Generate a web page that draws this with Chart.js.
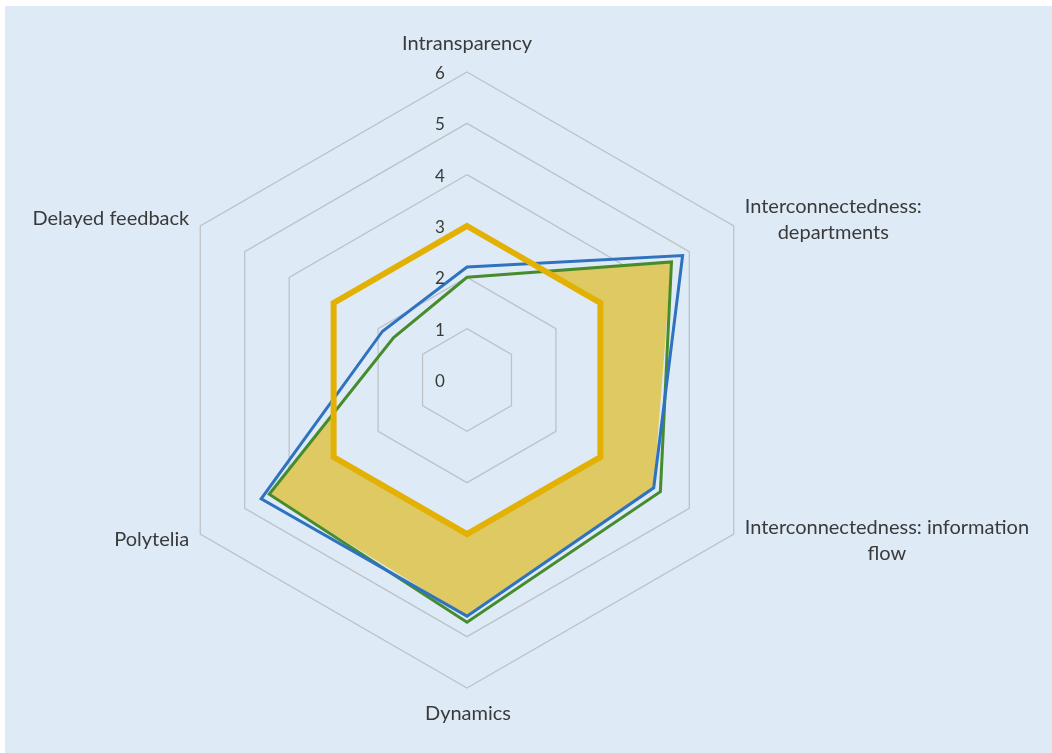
<!DOCTYPE html>
<html>
<head>
<meta charset="utf-8">
<script src="https://cdn.jsdelivr.net/npm/chart.js@4"></script>
<style>
  body { margin: 0; background: #fff; }
  #wrap { position: absolute; left: 5px; top: 6px; width: 1047px; height: 747px; background: #deebf7; }
</style>
</head>
<body>
<div id="wrap"><canvas id="radar"></canvas></div>
<script>
const categories = [
  "Intransparency",
  ["Interconnectedness:", "departments"],
  ["Interconnectedness: information", "flow"],
  "Dynamics",
  "Polytelia",
  "Delayed feedback"
];
const tickValues = [0, 1, 2, 3, 4, 5, 6];
const blueValues = [2.2, 4.85, 4.2, 4.6, 4.63, 1.9];
const greenValues = [2.0, 4.6, 4.35, 4.72, 4.45, 1.65];
const goldValues = [3, 3, 3, 3, 3, 3];
const shadedValues = [2.0, 4.6, 4.2, 4.6, 4.45, 1.65];

// where each axis label sits relative to the outer grid corner
const labelPlacement = [
  { align: "center", dx: 0, dy: -22 },
  { align: "block", dx: 11, dy: -13 },
  { align: "block", dx: 11, dy: 0 },
  { align: "center", dx: 1, dy: 32 },
  { align: "right", dx: -11, dy: 12 },
  { align: "right", dx: -11, dy: -1 }
];
const labelFont = "20px Lato";
const tickFont = "17px Lato";
const textColor = "#3a3a3a";
const SHADED = 3;

// keep the shaded band out of the gold hexagon
const cutOutGold = {
  id: "cutOutGold",
  beforeDatasetsDraw(chart) {
    const r = chart.scales.r;
    const ctx = chart.ctx;
    ctx.save();
    ctx.beginPath();
    ctx.rect(0, 0, chart.width, chart.height);
    goldValues.forEach((v, i) => {
      const p = r.getPointPositionForValue(i, v);
      if (i === 0) ctx.moveTo(p.x, p.y);
      else ctx.lineTo(p.x, p.y);
    });
    ctx.closePath();
    ctx.clip("evenodd");
  },
  afterDatasetDraw(chart, args) {
    if (args.index === SHADED) chart.ctx.restore();
  }
};

const axisText = {
  id: "axisText",
  afterDatasetsDraw(chart) {
    const r = chart.scales.r;
    const ctx = chart.ctx;
    const top = tickValues[tickValues.length - 1];
    ctx.save();
    ctx.fillStyle = textColor;
    ctx.textBaseline = "middle";
    ctx.textAlign = "center";
    ctx.font = tickFont;
    r.ticks.forEach(t => {
      const p = r.getPointPositionForValue(0, t.value);
      ctx.fillText(String(t.value), r.xCenter - 27, p.y + 1.5);
    });

    ctx.font = labelFont;
    ctx.textBaseline = "alphabetic";
    categories.forEach((lab, i) => {
      const lines = Array.isArray(lab) ? lab : [lab];
      const pl = labelPlacement[i];
      const p = r.getPointPositionForValue(i, top);
      const w = Math.max(...lines.map(s => ctx.measureText(s).width));
      lines.forEach((s, k) => {
        const y = p.y + pl.dy + k * 26;
        if (pl.align === "center") {
          ctx.textAlign = "center";
          ctx.fillText(s, p.x + pl.dx, y);
        } else if (pl.align === "right") {
          ctx.textAlign = "right";
          ctx.fillText(s, p.x + pl.dx, y);
        } else {
          // multi-line block to the right, lines centred on each other
          ctx.textAlign = "center";
          ctx.fillText(s, p.x + pl.dx + w / 2, y);
        }
      });
    });
    ctx.restore();
  }
};

new Chart(document.getElementById("radar"), {
  type: "radar",
  data: {
    labels: categories,
    datasets: [
      {
        label: "Target",
        data: goldValues,
        borderColor: "#e3b004",
        borderWidth: 6,
        fill: false,
        order: 0
      },
      {
        label: "Series A",
        data: blueValues,
        borderColor: "#2f72c0",
        borderWidth: 3,
        fill: false,
        order: 1
      },
      {
        label: "Series B",
        data: greenValues,
        borderColor: "#468c2c",
        borderWidth: 3,
        fill: false,
        order: 2
      },
      {
        label: "Shaded",
        data: shadedValues,
        borderWidth: 0,
        backgroundColor: "#dec963",
        fill: "origin",
        order: 3
      }
    ]
  },
  options: {
    responsive: true,
    maintainAspectRatio: false,
    animation: false,
    layout: { padding: { left: 154, right: 277, top: 66, bottom: 65 } },
    elements: {
      point: { radius: 0, hoverRadius: 0 },
      line: { tension: 0, borderJoinStyle: "miter" }
    },
    plugins: {
      legend: { display: false },
      tooltip: { enabled: false }
    },
    scales: {
      r: {
        min: tickValues[0],
        max: tickValues[tickValues.length - 1],
        ticks: { stepSize: 1, display: false },
        grid: { circular: false, color: "#bfc2c6", lineWidth: 1.3 },
        angleLines: { display: false },
        pointLabels: { display: false }
      }
    }
  },
  plugins: [cutOutGold, axisText]
});
</script>
</body>
</html>
